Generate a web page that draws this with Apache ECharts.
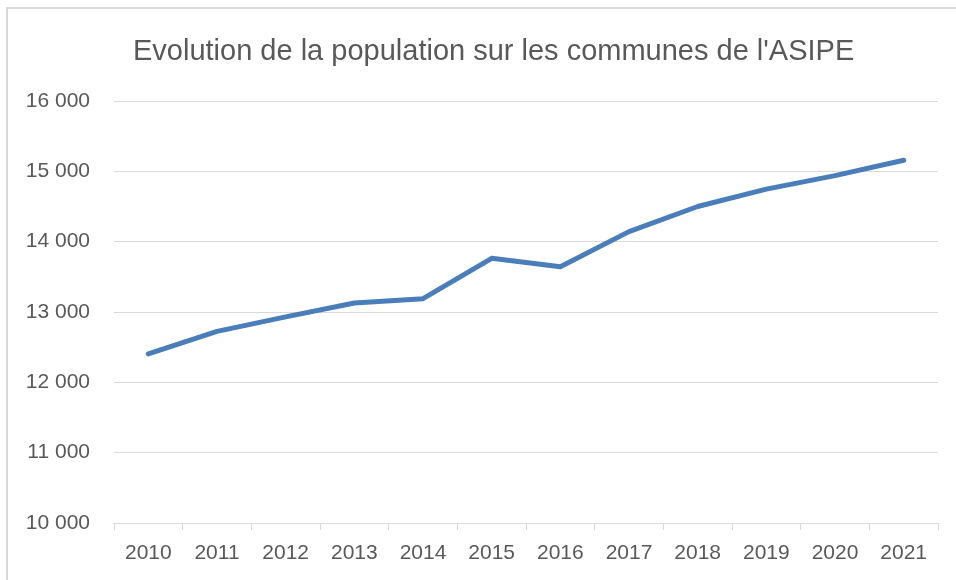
<!DOCTYPE html>
<html>
<head>
<meta charset="utf-8">
<script src="https://cdn.jsdelivr.net/npm/echarts@6/dist/echarts.min.js"></script>
<style>
  html, body { margin: 0; padding: 0; background: #fff; }
  #chart { width: 956px; height: 580px; }
</style>
</head>
<body>
<div id="chart"></div>
<script>
// données
const years = ["2010", "2011", "2012", "2013", "2014", "2015", "2016", "2017", "2018", "2019", "2020", "2021"];
const population = [12405, 12725, 12930, 13128, 13189, 13763, 13643, 14143, 14500, 14747, 14939, 15157];
const yTicks = [10000, 11000, 12000, 13000, 14000, 15000, 16000];

const chart = echarts.init(document.getElementById("chart"));

const fmt = (v) => String(v).replace(/\B(?=(\d{3})+(?!\d))/g, " ");

chart.setOption({
  animation: false,
  textStyle: { fontFamily: "Liberation Sans" },
  title: {
    text: "Evolution de la population sur les communes de l'ASIPE",
    left: 128,
    top: 32,
    textStyle: { color: "#595959", fontSize: 29, fontWeight: "normal" }
  },
  // cadre gris clair en haut et à gauche
  graphic: [
    { type: "rect", shape: { x: 7, y: 8, width: 960, height: 600 },
      style: { fill: "none", stroke: "#d9d9d9", lineWidth: 2 }, silent: true }
  ],
  grid: { left: 114, right: 18, top: 101, bottom: 57 },
  xAxis: {
    type: "category",
    data: years,
    boundaryGap: true,
    axisLine: { lineStyle: { color: "#d9d9d9", width: 1 } },
    axisTick: { show: true, length: 7, lineStyle: { color: "#d9d9d9" } },
    axisLabel: { color: "#595959", fontSize: 21, margin: 20 }
  },
  yAxis: {
    type: "value",
    min: yTicks[0],
    max: yTicks[yTicks.length - 1],
    interval: 1000,
    axisLine: { show: false },
    axisTick: { show: false },
    axisLabel: { color: "#595959", fontSize: 21, margin: 24, formatter: fmt },
    splitLine: { lineStyle: { color: "#d9d9d9", width: 1 } }
  },
  series: [
    {
      name: "population",
      type: "line",
      data: population,
      symbol: "none",
      lineStyle: { color: "#4a7ebb", width: 5, cap: "round", join: "round" }
    }
  ]
});
</script>
</body>
</html>
